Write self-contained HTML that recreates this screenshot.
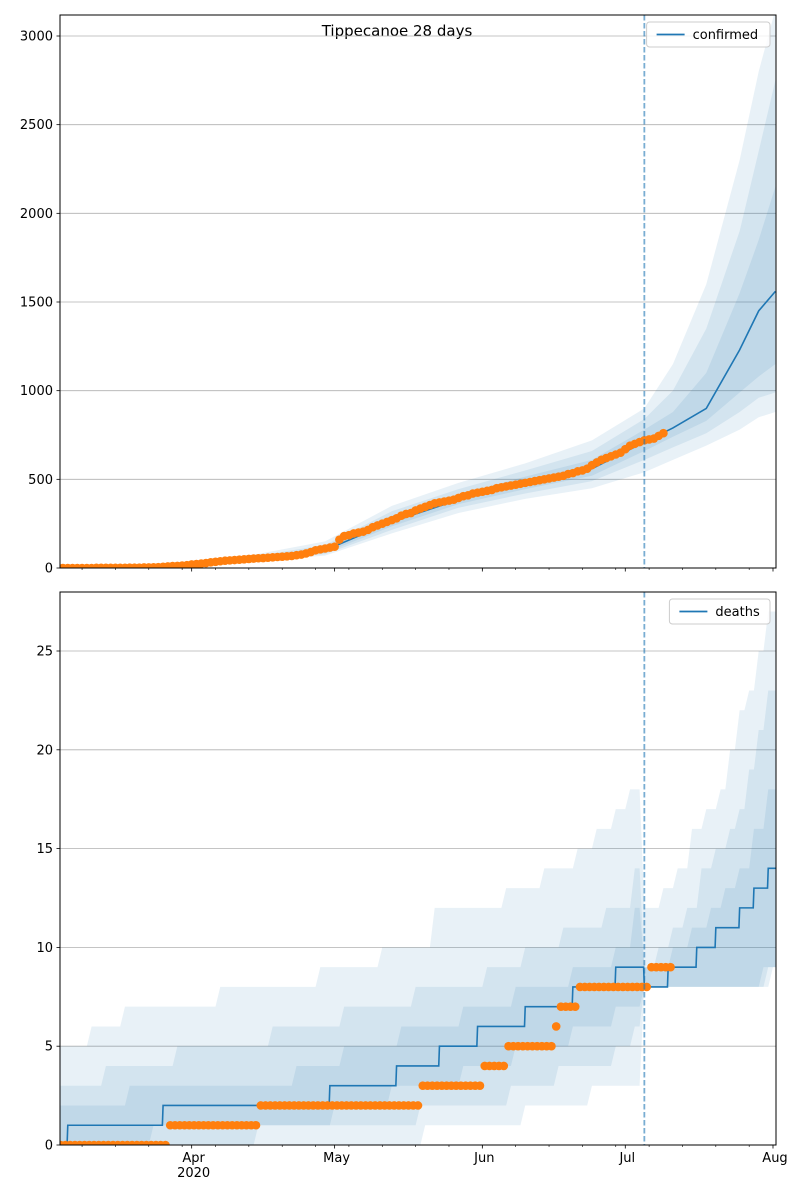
<!DOCTYPE html>
<html><head><meta charset="utf-8">
<style>
body{margin:0;background:#fff;}
svg{display:block;font-family:"DejaVu Sans","Liberation Sans",sans-serif;}
</style></head>
<body>
<svg id="chart" width="800" height="1200" xmlns="http://www.w3.org/2000/svg">
<text x="397" y="36" text-anchor="middle" font-size="15">Tippecanoe 28 days</text>
<g id="top"></g>
<g id="bot"></g>
</svg>
<script>
// Day index 0 = Mar 4 2020
const monthTickDays=[28,58,89,119,150];
const monthTickLabels=["Apr","May","Jun","Jul","Aug"];
const forecastDay=123;
const confirmedObs=[0,0,0,0,0,0,0,0,1,1,1,1,1,1,1,2,2,2,3,3,
4,5,7,9,11,12,14,16,
20,22,25,28,32,35,38,41,43,45,47,49,
51,53,55,56,58,60,62,64,66,68,
72,76,82,90,100,105,110,115,
120,160,180,185,195,200,205,215,230,240,
250,260,270,280,295,305,310,325,335,345,
355,365,370,375,380,385,395,405,410,420,
425,430,435,440,450,455,460,465,470,475,
480,485,490,495,500,505,510,515,520,530,
535,545,550,560,580,595,610,620,630,640,
650,670,690,700,710,720,725,730,745,760];
const confDays=[0,14,28,42,56,70,84,98,112,123,129,136,143,147,150.5];
const confMedian=[2,5,20,55,100,260,385,475,560,710,790,900,1230,1450,1560];
const confOuterLo=[0,3,12,40,70,195,310,390,450,540,610,690,780,850,880];
const confOuterHi=[5,8,30,80,150,350,480,590,720,900,1150,1600,2300,2800,3150];
const confMidLo=[1,4,15,45,78,215,340,420,490,610,680,760,880,960,990];
const confMidHi=[4,7,26,70,130,320,445,550,660,840,1000,1350,1900,2350,2750];
const confInLo=[1,4,17,50,86,235,360,445,520,660,740,830,990,1080,1150];
const confInHi=[3,6,23,62,112,295,415,515,610,780,880,1100,1550,1850,2150];
const deathsObs=[0,0,0,0,0,0,0,0,0,0,0,0,0,0,0,0,0,0,0,0,0,0,0,
1,1,1,1,1,1,1,1,1,1,1,1,1,1,1,1,1,1,1,
2,2,2,2,2,2,2,2,2,2,2,2,2,2,2,2,2,2,2,2,2,2,2,2,2,2,2,2,2,2,2,2,2,2,
3,3,3,3,3,3,3,3,3,3,3,3,3,
4,4,4,4,4,
5,5,5,5,5,5,5,5,5,5,
6,7,7,7,7,
8,8,8,8,8,8,8,8,8,8,8,8,8,8,8,
9,9,9,9,9];
const deathMedian=[[0,0],[2,1],[22,2],[57,3],[71,4],[80,5],[88,6],[98,7],[108,8],[117,9],[123,8],[128,9],[134,10],[138,11],[143,12],[146,13],[149,14]];
const deathOuterLo=[[0,0],[77,1],[98,2],[112,3],[123,8],[148,9]];
const deathOuterHi=[[0,5],[7,6],[14,7],[34,8],[55,9],[68,10],[79,12],[94,13],[102,14],[109,15],[113,16],[117,17],[120,18],[123,12],[127,13],[130,14],[133,16],[136,17],[139,18],[141,20],[143,22],[145,23],[147,25],[149,27]];
const deathMidLo=[[0,0],[42,1],[76,2],[95,3],[105,4],[117,5],[121,6],[123,8],[149,9]];
const deathMidHi=[[0,3],[3,3],[10,4],[25,5],[45,6],[60,7],[75,8],[90,9],[98,10],[106,11],[115,12],[121,14],[123,9],[126,10],[129,11],[132,12],[135,14],[138,15],[141,16],[143,17],[145,19],[147,21],[149,23]];
const deathInLo=[[0,0],[20,1],[58,2],[70,3],[85,4],[96,5],[108,6],[117,7],[123,8],[150,9]];
const deathInHi=[[0,2],[3,2],[15,3],[50,4],[60,5],[72,6],[85,7],[96,8],[108,9],[117,10],[121,12],[123,9],[129,10],[133,11],[137,12],[140,13],[143,14],[146,16],[149,18]];
const confTicks=[0,500,1000,1500,2000,2500,3000];
const deathTicks=[0,5,10,15,20,25];

const NS="http://www.w3.org/2000/svg";
const L=60,R=776;
function X(d){return 773+(d-150)*4.765;}
function mk(p,tag,a){const e=document.createElementNS(NS,tag);for(const k in a)e.setAttribute(k,a[k]);p.appendChild(e);return e;}
function stepPts(arr,Y,end,slant){let pts=[];for(let i=0;i<arr.length;i++){const d=arr[i][0],v=arr[i][1];const x=X(d);if(i>0)pts.push([X(d-slant),Y(arr[i-1][1])]);pts.push([x,Y(v)]);}pts.push([X(end),Y(arr[arr.length-1][1])]);return pts;}

function axes(g,top,bottom,maxV,ticks,name,labels){
 const Y=v=>bottom-v/maxV*(bottom-top);
 const clipId=name+"-clip";
 const cp=mk(g,"clipPath",{id:clipId});mk(cp,"rect",{x:L,y:top,width:R-L,height:bottom-top});
 ticks.forEach(t=>{
  const gl=mk(g,"line",{x1:L,x2:R,y1:Y(t),y2:Y(t),stroke:"#b0b0b0","stroke-width":0.8});
  
  
  mk(g,"line",{x1:L-3.5,x2:L,y1:Y(t),y2:Y(t),stroke:"#000","stroke-width":0.8});
  const tx=mk(g,"text",{x:L-7,y:Y(t)+4.5,"text-anchor":"end","font-size":13});tx.textContent=t;
  
  
 });
 for(let d=5;d<=152;d+=7){const x=X(d);if(x<L||x>R)continue;mk(g,"line",{x1:x,x2:x,y1:bottom,y2:bottom+2,stroke:"#000","stroke-width":0.6});}
 monthTickDays.forEach((d,i)=>{const x=X(d);mk(g,"line",{x1:x,x2:x,y1:bottom,y2:bottom+3.5,stroke:"#000","stroke-width":0.8});
  if(labels){const tx=mk(g,"text",{x:x+2,y:bottom+17,"text-anchor":"middle","font-size":13});tx.textContent=monthTickLabels[i];
  
  }
 });
 if(labels){const t=mk(g,"text",{x:X(28)+2,y:bottom+32,"text-anchor":"middle","font-size":13});t.textContent="2020";
  
  }
 return {Y,clip:"url(#"+clipId+")"};
}
function frame(g,top,bottom,name,label){
 const dl=mk(g,"line",{x1:X(forecastDay),x2:X(forecastDay),y1:top,y2:bottom,stroke:"#1f77b4","stroke-opacity":0.6,"stroke-width":1.8,"stroke-dasharray":"5.5,2.5"});
 
 
 const fr=mk(g,"rect",{x:L,y:top,width:R-L,height:bottom-top,fill:"none",stroke:"#000","stroke-width":1});
 
 
 const w=label.length*7.6+55;
 const lg=mk(g,"g",{});
 
 
 mk(lg,"rect",{x:R-6-w,y:top+7,width:w,height:25,rx:3,fill:"#fff","fill-opacity":0.8,stroke:"#ccc"});
 mk(lg,"line",{x1:R-w+4,x2:R-w+32,y1:top+19.5,y2:top+19.5,stroke:"#1f77b4","stroke-width":1.8});
 const t=mk(lg,"text",{x:R-w+40,y:top+24,"font-size":13});t.textContent=label;
 
 
}

(function(){
 const g=document.getElementById('top');
 const top=15,bottom=568;
 const {Y,clip}=axes(g,top,bottom,3000/((568-36)/(568-15)),confTicks,'confirmed',false);
 const c=mk(g,"g",{"clip-path":clip});
 [[confOuterLo,confOuterHi],[confMidLo,confMidHi],[confInLo,confInHi]].forEach((b,k)=>{
  let pts=confDays.map((d,i)=>X(d)+","+Y(b[1][i]));
  for(let i=confDays.length-1;i>=0;i--)pts.push(X(confDays[i])+","+Y(b[0][i]));
  const p=mk(c,"polygon",{points:pts.join(" "),fill:"#1f77b4","fill-opacity":0.1});
  
  
 });
 const ln=mk(c,"polyline",{points:confDays.map((d,i)=>X(d)+","+Y(confMedian[i])).join(" "),fill:"none",stroke:"#1f77b4","stroke-width":1.6});
 
 
 confirmedObs.forEach((v,d)=>{
  const e=mk(c,"circle",{cx:X(d),cy:Y(v),r:4.3,fill:"#ff7f0e"});
  
  
 });
 frame(g,top,bottom,'confirmed','confirmed');
})();
(function(){
 const g=document.getElementById('bot');
 const top=592,bottom=1145;
 const {Y,clip}=axes(g,top,bottom,25*(1145-592)/(1145-651),deathTicks,'deaths',true);
 const c=mk(g,"g",{"clip-path":clip});
 [[deathOuterLo,deathOuterHi],[deathMidLo,deathMidHi],[deathInLo,deathInHi]].forEach((b,k)=>{
  const hi=stepPts(b[1],Y,152,1),lo=stepPts(b[0],Y,152,1).reverse();
  const p=mk(c,"polygon",{points:hi.concat(lo).map(q=>q.join(",")).join(" "),fill:"#1f77b4","fill-opacity":0.1});
  
  
 });
 const ln=mk(c,"polyline",{points:stepPts(deathMedian,Y,152,0.15).map(q=>q.join(",")).join(" "),fill:"none",stroke:"#1f77b4","stroke-width":1.6});
 
 
 deathsObs.forEach((v,d)=>{
  const e=mk(c,"circle",{cx:X(d+0.5),cy:Y(v),r:4.3,fill:"#ff7f0e"});
  
  
 });
 frame(g,top,bottom,'deaths','deaths');
})();
</script>
</body></html>
